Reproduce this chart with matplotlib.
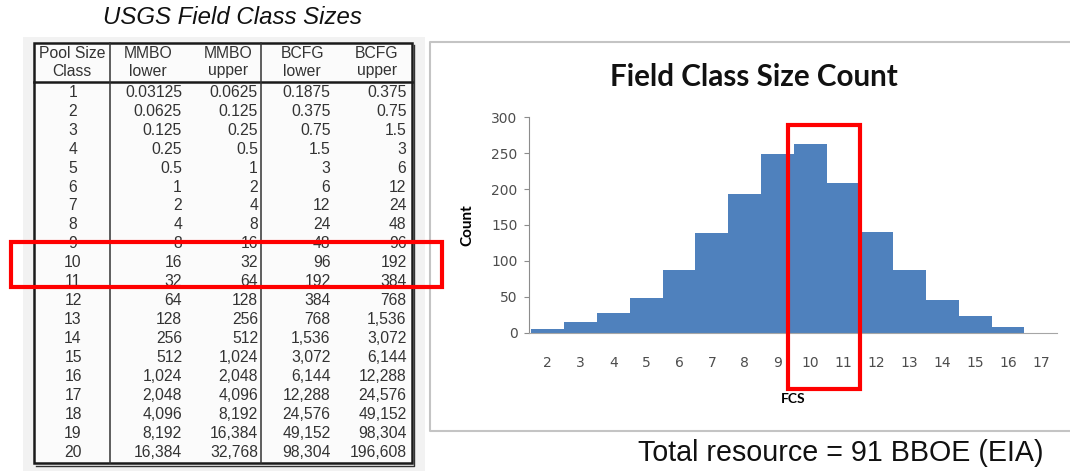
import matplotlib
matplotlib.use('Agg')
import matplotlib.pyplot as plt
from matplotlib.patches import Rectangle

# テーブルデータ（USGS Field Class Sizes）
pool_class = list(range(1, 21))
mmbo_lower = [0.03125, 0.0625, 0.125, 0.25, 0.5, 1, 2, 4, 8, 16, 32, 64, 128, 256,
              512, 1024, 2048, 4096, 8192, 16384]
mmbo_upper = [0.0625, 0.125, 0.25, 0.5, 1, 2, 4, 8, 16, 32, 64, 128, 256, 512,
              1024, 2048, 4096, 8192, 16384, 32768]
bcfg_lower = [0.1875, 0.375, 0.75, 1.5, 3, 6, 12, 24, 48, 96, 192, 384, 768, 1536,
              3072, 6144, 12288, 24576, 49152, 98304]
bcfg_upper = [0.375, 0.75, 1.5, 3, 6, 12, 24, 48, 96, 192, 384, 768, 1536, 3072,
              6144, 12288, 24576, 49152, 98304, 196608]

# ヒストグラムデータ
fcs = list(range(2, 18))
counts = [5, 15, 28, 48, 88, 139, 193, 249, 263, 208, 140, 88, 46, 23, 8, 0]

W, H = 1070, 471
fig = plt.figure(figsize=(W / 100, H / 100), dpi=100)

# 背景（ピクセル座標）
bg = fig.add_axes([0, 0, 1, 1], zorder=0)
bg.set_xlim(0, W)
bg.set_ylim(H, 0)
bg.axis('off')

arial = 'Liberation Sans'
calibri = 'Lato'
tc = '#333333'

# 左の表
bg.text(232, 17, 'USGS Field Class Sizes', fontsize=17.3, style='italic',
        family=arial, color='#111111', ha='center', va='center')
bg.add_patch(Rectangle((23, 37), 402, 434, facecolor='#f2f2f2', edgecolor='none'))
bg.add_patch(Rectangle((33.5, 42.5), 378, 420, facecolor='#fbfbfb',
                       edgecolor='#1a1a1a', lw=1.8))
bg.plot([36, 414, 414], [465.5, 465.5, 45], color='#333333', lw=1.0)
bg.plot([33.5, 411.5], [82, 82], color='#1a1a1a', lw=1.8)
bg.plot([110, 110], [42.5, 462.5], color='#333333', lw=1.1)
bg.plot([260.7, 260.7], [42.5, 462.5], color='#333333', lw=1.1)

headers = [(72, 'Pool Size', 'Class'), (148, 'MMBO', 'lower'), (228, 'MMBO', 'upper'),
           (302, 'BCFG', 'lower'), (377, 'BCFG', 'upper')]
for x, h1, h2 in headers:
    bg.text(x, 53, h1, fontsize=11.3, family=arial, color=tc, ha='center', va='center')
    bg.text(x, 71, h2, fontsize=11.3, family=arial, color=tc, ha='center', va='center')


def fmt(v):
    if isinstance(v, float):
        return str(v)
    return f'{v:,}'


for i, c in enumerate(pool_class):
    y = 92.3 + i * 18.94
    bg.text(73, y, str(c), fontsize=11.3, family=arial, color=tc, ha='center', va='center')
    for xr, col in [(182, mmbo_lower), (258, mmbo_upper), (330.5, bcfg_lower), (406.5, bcfg_upper)]:
        bg.text(xr, y, fmt(col[i]), fontsize=11.3, family=arial, color=tc,
                ha='right', va='center')

# グラフの枠
bg.plot([1075, 430, 430, 1075], [42, 42, 431, 431], color='#c4c4c4', lw=1.5)
bg.text(754, 77, 'Field Class Size Count', fontsize=21.3, weight='bold',
        family=calibri, color='#111111', ha='center', va='center')
bg.text(841, 453, 'Total resource = 91 BBOE (EIA)', fontsize=20.6, family=arial,
        color='#111111', ha='center', va='center')

# ヒストグラム
x0, x1 = 529.3, 1057.4
y0, y1 = 332.7, 117.3
ax = fig.add_axes([x0 / W, 1 - y0 / H, (x1 - x0) / W, (y0 - y1) / H], zorder=1)
ax.set_facecolor('none')
ax.bar(fcs, counts, width=1.0, color='#4f81bd', edgecolor='none')
ax.set_xlim(1.45, 17.5)
ax.set_ylim(0, 300)
ax.set_yticks([0, 50, 100, 150, 200, 250, 300])
ax.set_xticks(fcs)
for s in ['top', 'right']:
    ax.spines[s].set_visible(False)
ax.spines['left'].set_color('#8c8c8c')
ax.spines['bottom'].set_color('#a6a6a6')
ax.tick_params(axis='y', length=3.5, color='#8c8c8c', labelsize=10,
               labelcolor='#4d4d4d', pad=5)
ax.tick_params(axis='x', length=0, labelsize=10, labelcolor='#4d4d4d', pad=17)
ax.set_xlabel('FCS', fontsize=10, weight='bold', family=calibri, labelpad=16)
ax.set_ylabel('Count', fontsize=11, weight='bold', family=calibri, labelpad=12)

# 赤枠
ov = fig.add_axes([0, 0, 1, 1], zorder=3)
ov.set_xlim(0, W)
ov.set_ylim(H, 0)
ov.axis('off')
ov.patch.set_alpha(0)
ov.add_patch(Rectangle((10.8, 241.7), 430.9, 45.6, fill=False, edgecolor='#ff0000', lw=3))
ov.add_patch(Rectangle((787.7, 125.3), 72, 264, fill=False, edgecolor='#ff0000', lw=3))

fig.savefig('out.png', dpi=100)
